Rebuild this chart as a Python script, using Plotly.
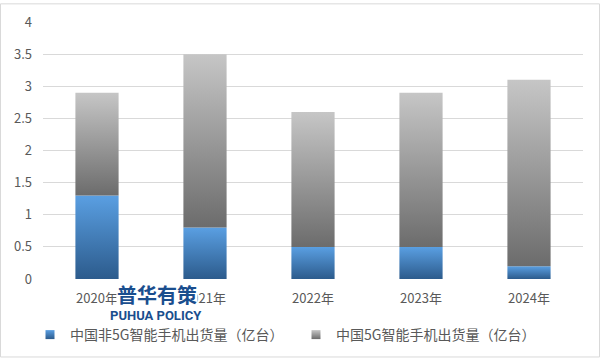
import plotly.graph_objects as go

years = ["2020年", "2021年", "2022年", "2023年", "2024年"]
non5g = [1.3, 0.8, 0.5, 0.5, 0.2]
g5 = [1.6, 2.7, 2.1, 2.4, 2.9]
name_non5g = "中国非5G智能手机出货量（亿台）"
name_5g = "中国5G智能手机出货量（亿台）"

blue_scale = [[0, "#2c5b8c"], [1, "#5a9fe2"]]
gray_scale = [[0, "#6c6c6c"], [1, "#c6c6c6"]]
bar_w = 0.4
FONT = "Noto Sans CJK SC"
W, H = 600, 361
L, R, T, B = 43, 583, 19, 281  # plot area in pixels
PW, PH = R - L, B - T

def px_to_paper(px, py):
    return (px - L) / PW, (B - py) / PH

fig = go.Figure()

def seg(i, base, h, scale, group):
    x0, x1 = i - bar_w / 2, i + bar_w / 2
    fig.add_trace(go.Scatter(
        x=[x0, x1, x1, x0, x0], y=[base, base, base + h, base + h, base],
        fill="toself", mode="lines", line=dict(width=0),
        fillgradient=dict(type="vertical", colorscale=scale),
        legendgroup=group, showlegend=False, hoverinfo="skip"))

for i in range(len(years)):
    seg(i, 0, non5g[i], blue_scale, "a")
    seg(i, non5g[i], g5[i], gray_scale, "b")

# legend entries
fig.add_trace(go.Scatter(x=[None], y=[None], mode="markers", name=name_non5g, legendgroup="a",
                         marker=dict(symbol="square", size=9, color="#5a9fe2",
                                     gradient=dict(type="vertical", color="#2c5b8c"))))
fig.add_trace(go.Scatter(x=[None], y=[None], mode="markers", name=name_5g, legendgroup="b",
                         marker=dict(symbol="square", size=9, color="#c6c6c6",
                                     gradient=dict(type="vertical", color="#6c6c6c"))))

# watermark
wx, wy = px_to_paper(157, 296)
fig.add_annotation(x=wx, y=wy, xref="paper", yref="paper", xanchor="center", yanchor="middle",
                   text="<b>普华有策</b>", showarrow=False, bgcolor="white",
                   borderpad=0, height=22,
                   font=dict(family=FONT, size=20, color="#1a4e8e"))
wx, wy = px_to_paper(156, 318)
fig.add_annotation(x=wx, y=wy, xref="paper", yref="paper", xanchor="center", yanchor="middle",
                   text="<b>PUHUA POLICY</b>", showarrow=False,
                   font=dict(family="Liberation Sans Narrow, Roboto", size=13, color="#1a4e8e"))

# outer border
bx0, by0 = px_to_paper(0.5, 360.5)
bx1, by1 = px_to_paper(599.5, 0.5)
fig.add_shape(type="rect", xref="paper", yref="paper",
              x0=bx0, x1=bx1, y0=by0, y1=by1,
              line=dict(color="#d9d9d9", width=1), layer="below")

fig.update_layout(
    width=W, height=H,
    margin=dict(l=L, r=W - R, t=T, b=H - B),
    paper_bgcolor="white", plot_bgcolor="white",
    font=dict(family=FONT, size=13, color="#595959"),
    xaxis=dict(range=[-0.5, 4.5], tickvals=list(range(len(years))), ticktext=years,
               showgrid=False, zeroline=False, showline=False, ticks="",
               ticklabelstandoff=10,
               tickfont=dict(size=13, color="#595959")),
    yaxis=dict(range=[0, 4], dtick=0.5, gridcolor="#d9d9d9", gridwidth=1,
               zeroline=False, showline=False, ticks="",
               ticklabelstandoff=10,
               tickfont=dict(size=13, color="#595959")),
    legend=dict(orientation="h", xref="container", yref="container",
                x=30 / W, xanchor="left", y=1 - 335 / H, yanchor="middle",
                font=dict(size=14, color="#595959"), entrywidth=221,
                itemwidth=30, tracegroupgap=0),
    showlegend=True,
)

fig.write_html("out.html", config={"displayModeBar": False},
               post_script="document.body.style.margin='0';")
